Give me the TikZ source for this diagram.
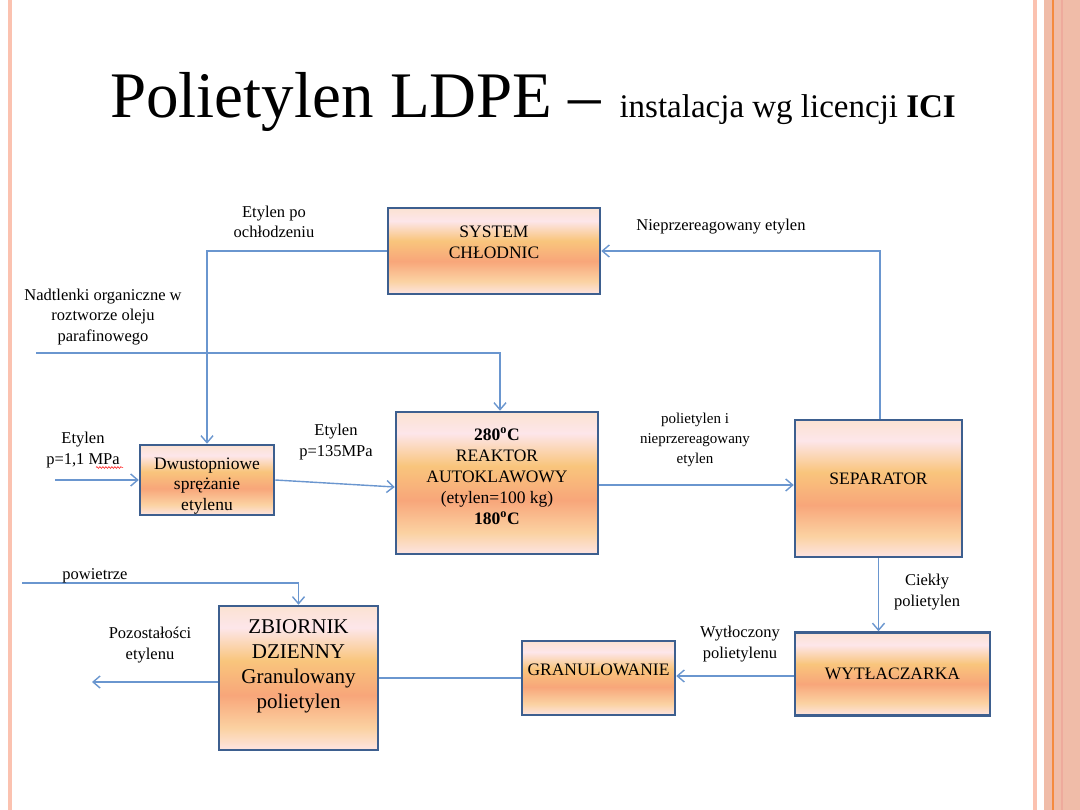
\documentclass[tikz,border=0pt]{standalone}
\usepackage{fontspec}
\setmainfont{Liberation Serif}
\usetikzlibrary{arrows.meta,decorations.pathmorphing}
\definecolor{gA}{HTML}{FBE2D2}
\definecolor{gB}{HTML}{FDE6EA}
\definecolor{gC}{HTML}{F9C57C}
\definecolor{gD}{HTML}{F8A67A}
\definecolor{gE}{HTML}{FBD2A2}
\definecolor{gF}{HTML}{FDE4E2}
\definecolor{boxline}{HTML}{3D5F8F}
\definecolor{conn}{HTML}{6A96CF}
\definecolor{stripe}{HTML}{FBC2B0}
\definecolor{sidebar}{HTML}{F0BCA8}
\definecolor{sideline}{HTML}{F58A3E}
\definecolor{sidefaint}{HTML}{EEAA9C}
\pgfdeclareverticalshading{sunset}{100bp}{color(0bp)=(gF); color(25bp)=(gF); color(32.5bp)=(gE); color(44bp)=(gD); color(56bp)=(gC); color(67.5bp)=(gB); color(75bp)=(gA); color(100bp)=(gA)}
\begin{document}
\begin{tikzpicture}[x=1pt,y=-1pt,
  procbox/.style={draw=boxline, line width=2.5pt, shading=sunset, align=center, inner sep=2pt,
    font=\fontsize{17.5}{21}\selectfont},
  lbl/.style={align=center, inner sep=0pt, font=\fontsize{16.5}{20.5}\selectfont},
  flow/.style={draw=conn, line width=1.4pt},
  flowarr/.style={flow, -{Straight Barb[length=7pt,width=12pt,line width=1.4pt]}}
]
\useasboundingbox (0,0) rectangle (1080,810);
\fill[white] (0,0) rectangle (1080,810);
% side decorations
\fill[stripe] (8,0) rectangle (12,810);
\fill[stripe] (1033,0) rectangle (1037,810);
\fill[sidebar] (1044,0) rectangle (1080,810);
\fill[sideline] (1051.5,0) rectangle (1053.5,810);
\fill[sidefaint] (1061,0) rectangle (1063,810);

% title
\node[anchor=base west, inner sep=0pt] (title) at (110,118)
  {\fontsize{65}{65}\selectfont Polietylen LDPE –\fontsize{33}{33}\selectfont{}\hspace{10pt} instalacja wg licencji \textbf{ICI}};

% boxes
\node[procbox, minimum width=212pt, minimum height=86pt, text depth=18pt] (cool) at (494,251) {SYSTEM\\CHŁODNIC};
\node[procbox, minimum width=134pt, minimum height=70pt] (dwu) at (207,480) {};
\node[align=center, inner sep=0pt, font=\fontsize{17.5}{20.5}\selectfont] (dwuT) at (207,486) {Dwustopniowe\\sprężanie\\etylenu};
\node[procbox, minimum width=202pt, minimum height=142pt, text depth=14pt] (reak) at (497,483)
  {\textbf{280\textsuperscript{o}C}\\REAKTOR\\AUTOKLAWOWY\\(etylen=100 kg)\\\textbf{180\textsuperscript{o}C}};
\node[procbox, minimum width=167pt, minimum height=137pt, text depth=20pt] (sep) at (878.5,488.5) {SEPARATOR};
\node[procbox, minimum width=195pt, minimum height=83pt] (wyt) at (892.5,674) {WYTŁACZARKA};
\node[procbox, minimum width=153pt, minimum height=74pt, text depth=16pt] (gran) at (598.5,678) {GRANULOWANIE};
\node[procbox, minimum width=159pt, minimum height=144pt, font=\fontsize{21}{25}\selectfont] (zb) at (298.5,678)
  {ZBIORNIK\\DZIENNY\\Granulowany\\polietylen\\[2pt]};

% free ends
\coordinate (nadIn) at (36,353);
\coordinate (etIn) at (55,480);
\coordinate (powIn) at (22,583);
\coordinate (out) at (92,0);

% connectors
\draw[flowarr] (cool.west) -| (dwu.north);
\draw[flowarr] (nadIn) -| ([xshift=3pt]reak.north);
\draw[flowarr] (etIn) -- (dwu.west);
\draw[flowarr] (dwu.east) -- ([yshift=-4pt]reak.west);
\draw[flowarr] ([yshift=-2pt]reak.east) -- ([yshift=-2pt]reak.east -| sep.west);
\draw[flowarr] ([xshift=1.5pt]sep.north) |- (cool.east);
\draw[flowarr] (sep.south) -- (sep.south |- wyt.north);
\draw[flowarr] ([yshift=-2pt]wyt.west) -- ([yshift=-2pt]wyt.west -| gran.east);
\draw[flow] (gran.west) -- (gran.west -| zb.east);
\draw[flowarr] ([yshift=-4pt]zb.west) -- ([yshift=-4pt]zb.west -| out);
\draw[flowarr] (powIn) -| (zb.north);

% labels
\node[lbl] (l1) at (274,222) {Etylen po\\ochłodzeniu};
\node[lbl] (l2) at (103,317) {Nadtlenki organiczne w\\roztworze oleju\\parafinowego};
\node[lbl] (l3) at (721,227) {Nieprzereagowany etylen};
\node[lbl] (l4) at (83,450) {Etylen\\p=1,1 MPa};
\draw[red, line width=0.5pt, decorate, decoration={snake, amplitude=0.9pt, segment length=3pt}] (96,467.5) -- (123,467.5);
\node[lbl] (l5) at (336,442) {Etylen\\p=135MPa};
\node[lbl, font=\fontsize{15}{20}\selectfont] (l6) at (695,440) {polietylen i\\nieprzereagowany\\etylen};
\node[lbl] (l7) at (927,592) {Ciekły\\polietylen};
\node[lbl] (l8) at (740,644) {Wytłoczony\\polietylenu};
\node[lbl] (l9) at (150,645) {Pozostałości\\etylenu};
\node[lbl] (l10) at (95,576) {powietrze};
\end{tikzpicture}
\end{document}
